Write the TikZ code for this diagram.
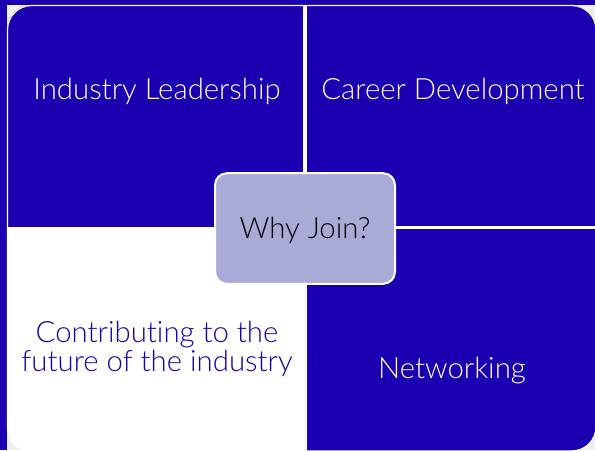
\documentclass[tikz,border=0pt]{standalone}
\usepackage{fontspec}
\setmainfont{Lato}[UprightFont=* Light, Ligatures=NoCommon]
\definecolor{joinblue}{RGB}{26,0,176}
\definecolor{joinlav}{RGB}{170,170,214}
\definecolor{joingrey}{RGB}{240,240,240}
\tikzset{
  tile/.style={white, font=\fontsize{22}{21.8}\selectfont, align=center},
}
\begin{document}
\begin{tikzpicture}[x=0.75pt, y=-0.75pt]
	\def\midx{305}
	\def\midy{227}
	\def\picw{595}
	\def\pich{450}

	\useasboundingbox (0, 0) rectangle (\picw, \pich) ;
	\fill[joinblue] (0, 0) rectangle (\picw, \pich) ;
	\fill[joingrey] (7, 5) rectangle (\picw, \pich) ;

	\begin{scope}
		\clip[rounded corners=18pt] (7, 5) rectangle (\picw + 1, \pich + 1) ;
		\fill[white] (7, 5) rectangle (\picw + 1, \pich + 1) ;
		\fill[joinblue] (7, 5) rectangle (\midx - 2, \midy) ;
		\fill[joinblue] (\midx + 1.5, 5) rectangle (\picw + 1, \midy - 1.5) ;
		\fill[joinblue] (\midx + 1.5, \midy + 1.5) rectangle (\picw + 1, \pich + 1) ;
		\draw[joingrey, thin] (\midx + 0.5, \midy) -- (\midx + 0.5, \pich + 1) ;
	\end{scope}
	\draw[white, line width=1pt, rounded corners=18pt] (7.5, 5.5) rectangle (\picw + 1, \pich + 1) ;

	\node[draw=white, line width=1.5pt, fill=joinlav, rounded corners=9pt,
		minimum width=135pt, minimum height=83pt] (why) at (\midx, 228.5) {} ;
	\node[font=\fontsize{22}{22}\selectfont, text=black] (whytext) at (\midx, 230) {Why Join?} ;

	\node[tile] (leader) at (157, 91) {Industry Leadership} ;
	\node[tile] (career) at (453, 91) {Career Development} ;
	\node[tile, text=joinblue] (future) at (157, 349) {Contributing to the\\future of the industry} ;
	\node[tile] (network) at (452, 371) {Networking} ;
\end{tikzpicture}
\end{document}
